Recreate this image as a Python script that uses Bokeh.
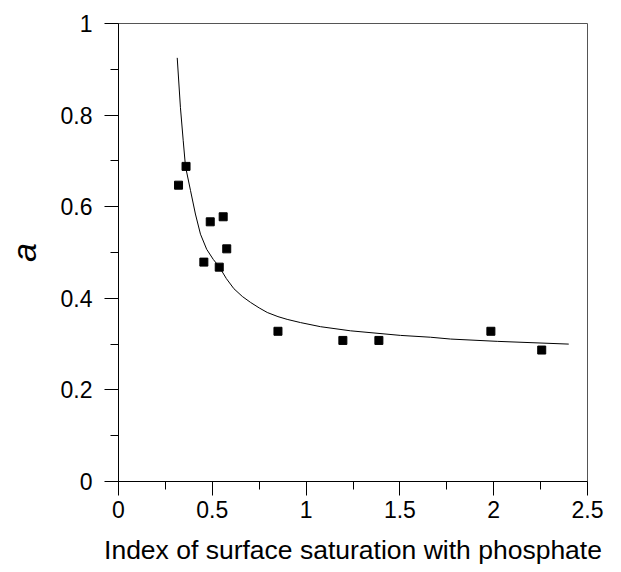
from bokeh.plotting import figure
from bokeh.models import FixedTicker, Range1d
from bokeh.embed import file_html
from bokeh.resources import INLINE

# Measured points
x_pts = [0.32, 0.36, 0.455, 0.489, 0.537, 0.558, 0.577, 0.85, 1.196, 1.388, 1.985, 2.256]
y_pts = [0.647, 0.688, 0.479, 0.567, 0.468, 0.578, 0.508, 0.328, 0.308, 0.308, 0.328, 0.287]

# Fitted curve
x_curve = [0.313, 0.330, 0.345, 0.357, 0.384, 0.410, 0.437, 0.470, 0.505, 0.538, 0.575, 0.615,
           0.660, 0.704, 0.750, 0.793, 0.850, 0.899, 0.970, 1.077, 1.237, 1.503, 1.663, 1.77, 2.019, 2.40]
y_curve = [0.925, 0.817, 0.744, 0.688, 0.635, 0.584, 0.540, 0.507, 0.485, 0.468, 0.443, 0.421,
           0.404, 0.391, 0.379, 0.369, 0.360, 0.354, 0.347, 0.338, 0.329, 0.319, 0.315, 0.311, 0.306, 0.300]

x_ticks = [0, 0.5, 1, 1.5, 2, 2.5]
x_tick_labels = ["0", "0.5", "1", "1.5", "2", "2.5"]
x_minor = [0.25, 0.75, 1.25, 1.75, 2.25]
y_ticks = [0, 0.2, 0.4, 0.6, 0.8, 1.0]
y_tick_labels = ["0", "0.2", "0.4", "0.6", "0.8", "1"]
y_minor = [0.1, 0.3, 0.5, 0.7, 0.9]

x_title = "Index of surface saturation with phosphate"
y_title = "a"

p = figure(width=613, height=570, output_backend="svg", toolbar_location=None,
           x_range=Range1d(0, 2.5), y_range=Range1d(0, 1))
p.min_border_left = 118
p.min_border_right = 26
p.min_border_top = 23
p.min_border_bottom = 89
p.grid.visible = False
p.outline_line_color = "#555555"
p.outline_line_width = 1
p.background_fill_color = "white"
p.border_fill_color = "white"

p.line(x_curve, y_curve, line_color="black", line_width=1)
p.scatter(x_pts, y_pts, marker="square", size=8, fill_color="black", line_color="black")

p.xaxis.ticker = FixedTicker(ticks=x_ticks, minor_ticks=x_minor)
p.yaxis.ticker = FixedTicker(ticks=y_ticks, minor_ticks=y_minor)
p.xaxis.major_label_overrides = {t: l for t, l in zip(x_ticks, x_tick_labels)}
p.yaxis.major_label_overrides = {t: l for t, l in zip(y_ticks, y_tick_labels)}

for ax in (p.xaxis, p.yaxis):
    ax.major_tick_out = 14
    ax.major_tick_in = 0
    ax.minor_tick_out = 8
    ax.minor_tick_in = 0
    ax.axis_line_color = "black"
    ax.major_tick_line_color = "black"
    ax.minor_tick_line_color = "black"
    ax.major_label_text_font = "Liberation Sans"
    ax.major_label_text_font_size = "23px"
    ax.major_label_text_color = "black"
    ax.axis_label_text_color = "black"

p.xaxis.axis_label = x_title
p.xaxis.axis_label_text_font = "Liberation Sans"
p.xaxis.axis_label_text_font_size = "26.5px"
p.xaxis.axis_label_text_font_style = "normal"
p.xaxis.major_label_standoff = 5
p.xaxis.axis_label_standoff = 14

p.yaxis.axis_label = y_title
p.yaxis.axis_label_text_font = "Liberation Sans"
p.yaxis.axis_label_text_font_size = "34px"
p.yaxis.axis_label_text_font_style = "italic"
p.yaxis.major_label_standoff = 12
p.yaxis.axis_label_standoff = 15

open("out.html", "w").write(file_html(p, INLINE))
